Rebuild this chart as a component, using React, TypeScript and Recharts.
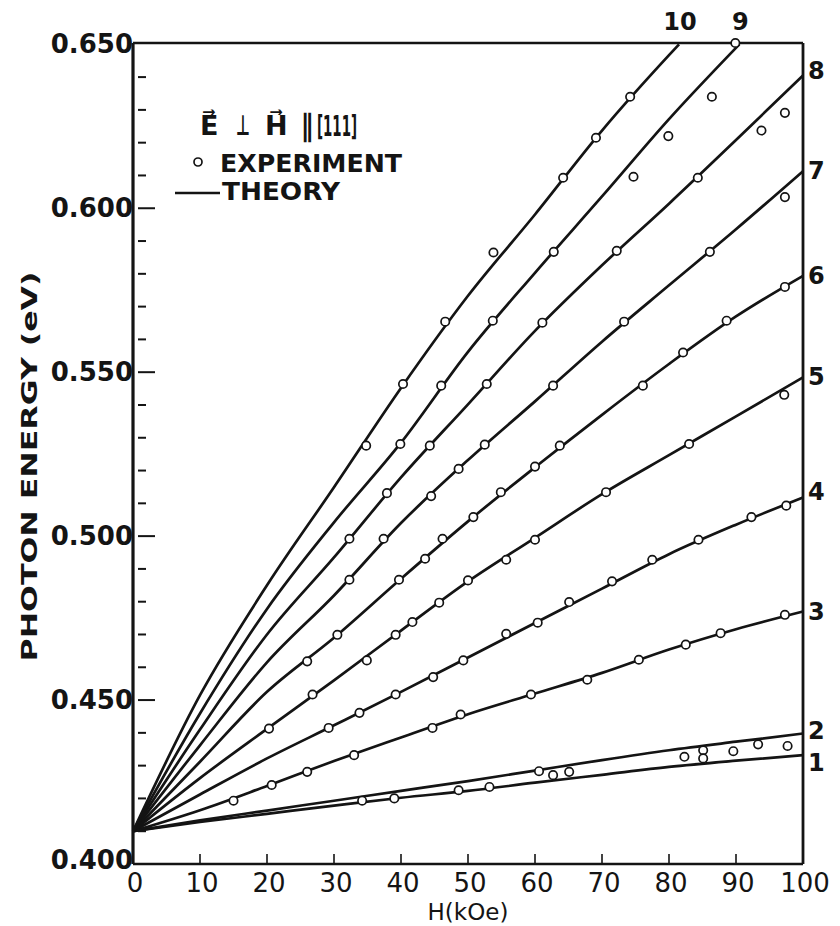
import {
  ComposedChart,
  Line,
  Scatter,
  XAxis,
  YAxis,
  Legend,
  LabelList,
} from "recharts";

// field grid for the theory curves (kOe)
const fieldKOe = [0, 10, 20, 30, 40, 50, 60, 70, 80, 90, 100];
// levels 9 and 10 leave the frame at the top
const fieldLevel9 = [0, 10, 20, 30, 40, 50, 60, 70, 80, 90.5];
const fieldLevel10 = [0, 10, 20, 30, 40, 50, 60, 70, 80, 81.5];

// theory, photon energy (eV)
const theory1 = [0.41, 0.4128, 0.4153, 0.4178, 0.4202, 0.4223, 0.4248, 0.4272, 0.4296, 0.4315, 0.4332];
const theory2 = [0.41, 0.4133, 0.4163, 0.4193, 0.4223, 0.4253, 0.4285, 0.4317, 0.4347, 0.4373, 0.4398];
const theory3 = [0.41, 0.4164, 0.4238, 0.4314, 0.4386, 0.4457, 0.452, 0.4583, 0.4654, 0.4716, 0.477];
const theory4 = [0.41, 0.4212, 0.4322, 0.4423, 0.4525, 0.463, 0.4735, 0.484, 0.4945, 0.5035, 0.5118];
const theory5 = [0.41, 0.4262, 0.4412, 0.456, 0.4712, 0.4862, 0.4995, 0.5128, 0.5247, 0.5365, 0.5484];
const theory6 = [0.41, 0.4312, 0.4525, 0.469, 0.487, 0.5045, 0.521, 0.537, 0.5525, 0.567, 0.5794];
const theory7 = [0.41, 0.4362, 0.4615, 0.4819, 0.504, 0.5232, 0.5411, 0.5593, 0.5765, 0.5936, 0.6113];
const theory8 = [0.41, 0.441, 0.47, 0.4935, 0.5179, 0.5402, 0.5626, 0.5826, 0.6014, 0.6208, 0.6405];
const theory9 = [0.41, 0.4459, 0.4778, 0.5042, 0.5285, 0.5562, 0.5803, 0.6036, 0.6272, 0.65];
const theory10 = [0.41, 0.4515, 0.485, 0.5149, 0.5452, 0.5733, 0.5981, 0.6237, 0.6467, 0.65];

// experiment, [H (kOe), E (eV)]
const expLow: [number, number][] = [
  [34.2, 0.4193], [39.0, 0.42], [48.6, 0.4225], [53.2, 0.4235],
  [60.6, 0.4283], [62.7, 0.4271], [65.1, 0.4281], [82.3, 0.4327],
  [85.1, 0.4347], [85.1, 0.4322], [89.6, 0.4344], [93.3, 0.4365], [97.7, 0.436],
];
const exp3: [number, number][] = [
  [15.0, 0.4193], [20.7, 0.4241], [26.0, 0.4281], [33.0, 0.4332], [44.7, 0.4415],
  [48.9, 0.4456], [59.4, 0.4517], [67.8, 0.4562], [75.5, 0.4623], [82.5, 0.4669],
  [87.7, 0.4704], [97.3, 0.476],
];
const exp4: [number, number][] = [
  [29.2, 0.4415], [33.8, 0.4461], [39.2, 0.4517], [44.8, 0.457], [49.3, 0.4621],
  [55.7, 0.4702], [60.4, 0.4736], [65.1, 0.4799], [71.5, 0.4862], [77.5, 0.4928],
  [84.4, 0.4989], [92.3, 0.5058], [97.5, 0.5093],
];
const exp5: [number, number][] = [
  [20.3, 0.4413], [26.8, 0.4517], [34.9, 0.4621], [39.2, 0.4699], [41.7, 0.4738],
  [45.7, 0.4797], [50.0, 0.4865], [55.7, 0.4928], [60.0, 0.4989], [70.6, 0.5134],
  [83.0, 0.5281], [97.2, 0.5431],
];
const exp6: [number, number][] = [
  [26.0, 0.4618], [30.5, 0.4699], [39.7, 0.4867], [43.6, 0.4931], [46.2, 0.4992],
  [50.8, 0.5058], [54.9, 0.5134], [60.0, 0.5212], [63.7, 0.5276], [76.1, 0.5459],
  [82.1, 0.556], [88.6, 0.5657], [97.3, 0.576],
];
const exp7: [number, number][] = [
  [32.3, 0.4867], [37.4, 0.4992], [44.5, 0.5122], [48.6, 0.5205], [52.5, 0.5279],
  [62.7, 0.5459], [73.3, 0.5654], [86.1, 0.5867], [97.3, 0.6034],
];
const exp8: [number, number][] = [
  [32.3, 0.4992], [37.9, 0.5131], [44.3, 0.5276], [52.8, 0.5464], [61.1, 0.5651],
  [72.2, 0.587], [84.3, 0.6093], [93.8, 0.6237], [97.3, 0.6291],
];
const exp9: [number, number][] = [
  [39.9, 0.5281], [46.0, 0.5459], [53.7, 0.5657], [62.8, 0.5867], [74.7, 0.6096],
  [79.9, 0.622], [86.4, 0.634], [89.9, 0.6504],
];
const exp10: [number, number][] = [
  [34.8, 0.5276], [40.3, 0.5464], [46.6, 0.5654], [53.8, 0.5865], [64.2, 0.6093],
  [69.1, 0.6215], [74.2, 0.634],
];

const xTicks = [0, 10, 20, 30, 40, 50, 60, 70, 80, 90, 100];
const yTicks = [
  0.4, 0.41, 0.42, 0.43, 0.44, 0.45, 0.46, 0.47, 0.48, 0.49, 0.5, 0.51, 0.52,
  0.53, 0.54, 0.55, 0.56, 0.57, 0.58, 0.59, 0.6, 0.61, 0.62, 0.63, 0.64, 0.65,
];

const curves = [
  { tag: "1", field: fieldKOe, energy: theory1 },
  { tag: "2", field: fieldKOe, energy: theory2 },
  { tag: "3", field: fieldKOe, energy: theory3 },
  { tag: "4", field: fieldKOe, energy: theory4 },
  { tag: "5", field: fieldKOe, energy: theory5 },
  { tag: "6", field: fieldKOe, energy: theory6 },
  { tag: "7", field: fieldKOe, energy: theory7 },
  { tag: "8", field: fieldKOe, energy: theory8 },
  { tag: "9", field: fieldLevel9, energy: theory9 },
  { tag: "10", field: fieldLevel10, energy: theory10 },
];

const experiments = [expLow, exp3, exp4, exp5, exp6, exp7, exp8, exp9, exp10];

const INK = "#141414";
const FONT = "'DejaVu Sans', sans-serif";

// small vertical nudges for the level numbers at the right edge
const tagNudge: Record<string, number> = { "1": 8, "2": -3, "4": -5, "8": -4 };

function curvePoints(field: number[], energy: number[], tag: string) {
  return field.map((h, i) => ({
    h,
    e: energy[i],
    tag: i === field.length - 1 ? tag : undefined,
  }));
}

function CurveTag(props: any) {
  const { value } = props;
  if (value == null) return null;
  const vb = props.viewBox || {};
  const x = vb.x ?? props.x;
  const y = vb.y ?? props.y;
  const onTop = value === "9" || value === "10";
  return (
    <text
      x={onTop ? x + 1 : x + 5}
      y={onTop ? y - 22 : y + (tagNudge[value] || 0)}
      textAnchor={onTop ? "middle" : "start"}
      dominantBaseline="central"
      fontFamily={FONT}
      fontWeight="bold"
      fontSize={24}
      fill={INK}
    >
      {value}
    </text>
  );
}

function OpenCircle(props: any) {
  return (
    <circle cx={props.cx} cy={props.cy} r={4.2} fill="#fff" stroke={INK} strokeWidth={1.7} />
  );
}

function LeftTick(props: any) {
  const { x, y, payload } = props;
  const v = payload.value as number;
  const major = Math.round(v * 1000) % 50 === 0;
  const axisX = x + 5;
  return (
    <g>
      {v > 0.4 && v < 0.65 && (
        <line x1={axisX} x2={axisX + (major ? 17 : 8)} y1={y} y2={y} stroke={INK} strokeWidth={2} />
      )}
      {major && (
        <text
          x={x}
          y={v === 0.4 ? y - 4 : y}
          textAnchor="end"
          dominantBaseline="central"
          fontFamily={FONT}
          fontWeight="bold"
          fontSize={26}
          fill={INK}
        >
          {v.toFixed(3)}
        </text>
      )}
    </g>
  );
}

function RightTick(props: any) {
  const { x, y, payload } = props;
  const v = payload.value as number;
  if (v <= 0.4 || v >= 0.65) return null;
  return <line x1={x} x2={x - 5} y1={y} y2={y} stroke={INK} strokeWidth={1.6} />;
}

function BottomTick(props: any) {
  const { x, y, payload } = props;
  const v = payload.value as number;
  return (
    <g>
      {v > 0 && v < 100 && (
        <line x1={x} x2={x} y1={y} y2={y - 10} stroke={INK} strokeWidth={1.6} />
      )}
      <text x={x + 2} y={y + 28} textAnchor="middle" fontFamily={FONT} fontSize={26} fill={INK}>
        {v}
      </text>
    </g>
  );
}

function TopTick(props: any) {
  const { x, y } = props;
  return <line x1={x} x2={x} y1={y} y2={y + 10} stroke={INK} strokeWidth={1.6} />;
}

function Key() {
  const bold = { fontFamily: FONT, fontWeight: "bold" as const, fill: INK };
  return (
    <svg width={260} height={115} style={{ display: "block" }}>
      <text x={40} y={40} fontSize={27} {...bold}>{"E\u20D7"}</text>
      <text x={76} y={40} fontSize={28} textLength={14} lengthAdjust="spacingAndGlyphs" {...bold}>⊥</text>
      <text x={105} y={40} fontSize={27} {...bold}>{"H\u20D7"}</text>
      <text x={141} y={41} fontSize={30} textLength={12} lengthAdjust="spacingAndGlyphs" {...bold}>∥</text>
      <text x={157} y={41} fontSize={28} textLength={40} lengthAdjust="spacingAndGlyphs" {...bold}>[111]</text>
      <circle cx={38} cy={67} r={4} fill="#fff" stroke={INK} strokeWidth={1.7} />
      <text x={60} y={77} fontSize={25} textLength={182} lengthAdjust="spacingAndGlyphs" {...bold}>EXPERIMENT</text>
      <line x1={15} x2={60} y1={98} y2={98} stroke={INK} strokeWidth={2.6} />
      <text x={62} y={105} fontSize={25} textLength={118} lengthAdjust="spacingAndGlyphs" {...bold}>THEORY</text>
    </svg>
  );
}

export default function App() {
  return (
    <div style={{ position: "absolute", left: 0, top: 0, background: "#fff" }}>
      <ComposedChart width={840} height={926} margin={{ top: 33, right: 27, bottom: 22, left: 53 }}>
        <XAxis
          dataKey="h"
          type="number"
          domain={[0, 100]}
          ticks={xTicks}
          interval={0}
          height={40}
          tickSize={0}
          tickMargin={0}
          tick={<BottomTick />}
          axisLine={{ stroke: INK, strokeWidth: 2.6 }}
          label={{
            content: (p: any) => (
              <text
                x={p.viewBox.x + p.viewBox.width / 2}
                y={920}
                textAnchor="middle"
                fontFamily={FONT}
                fontSize={23}
                fill={INK}
              >
                H(kOe)
              </text>
            ),
          }}
        />
        <XAxis
          xAxisId="top"
          orientation="top"
          type="number"
          domain={[0, 100]}
          ticks={[10]}
          height={10}
          tickSize={0}
          tickMargin={0}
          tick={<TopTick />}
          axisLine={{ stroke: INK, strokeWidth: 2.6 }}
        />
        <YAxis
          dataKey="e"
          type="number"
          domain={[0.4, 0.65]}
          ticks={yTicks}
          interval={0}
          width={80}
          tickSize={0}
          tickMargin={0}
          tick={<LeftTick />}
          axisLine={{ stroke: INK, strokeWidth: 3.2 }}
          label={{
            content: (p: any) => (
              <text
                transform={`translate(30, ${p.viewBox.y + p.viewBox.height / 2 + 13}) rotate(-90)`}
                textAnchor="middle"
                dominantBaseline="central"
                fontFamily={FONT}
                fontWeight="bold"
                fontSize={21}
                textLength={390}
                lengthAdjust="spacingAndGlyphs"
                fill={INK}
              >
                PHOTON ENERGY (eV)
              </text>
            ),
          }}
        />
        <YAxis
          yAxisId="right"
          orientation="right"
          type="number"
          domain={[0.4, 0.65]}
          ticks={yTicks}
          interval={0}
          width={10}
          tickSize={0}
          tickMargin={0}
          tick={<RightTick />}
          axisLine={{ stroke: INK, strokeWidth: 2.8 }}
        />
        <Legend
          layout="horizontal"
          verticalAlign="middle"
          align="center"
          wrapperStyle={{ left: 160, top: 95, width: 260 }}
          content={() => <Key />}
        />
        {curves.map((c) => (
          <Line
            key={c.tag}
            data={curvePoints(c.field, c.energy, c.tag)}
            dataKey="e"
            type="monotone"
            stroke={INK}
            strokeWidth={2.7}
            dot={false}
            activeDot={false}
            isAnimationActive={false}
          >
            <LabelList dataKey="tag" content={<CurveTag />} />
          </Line>
        ))}
        {experiments.map((pts, i) => (
          <Scatter
            key={i}
            data={pts.map(([h, e]) => ({ h, e }))}
            shape={<OpenCircle />}
            isAnimationActive={false}
          />
        ))}
      </ComposedChart>
    </div>
  );
}
